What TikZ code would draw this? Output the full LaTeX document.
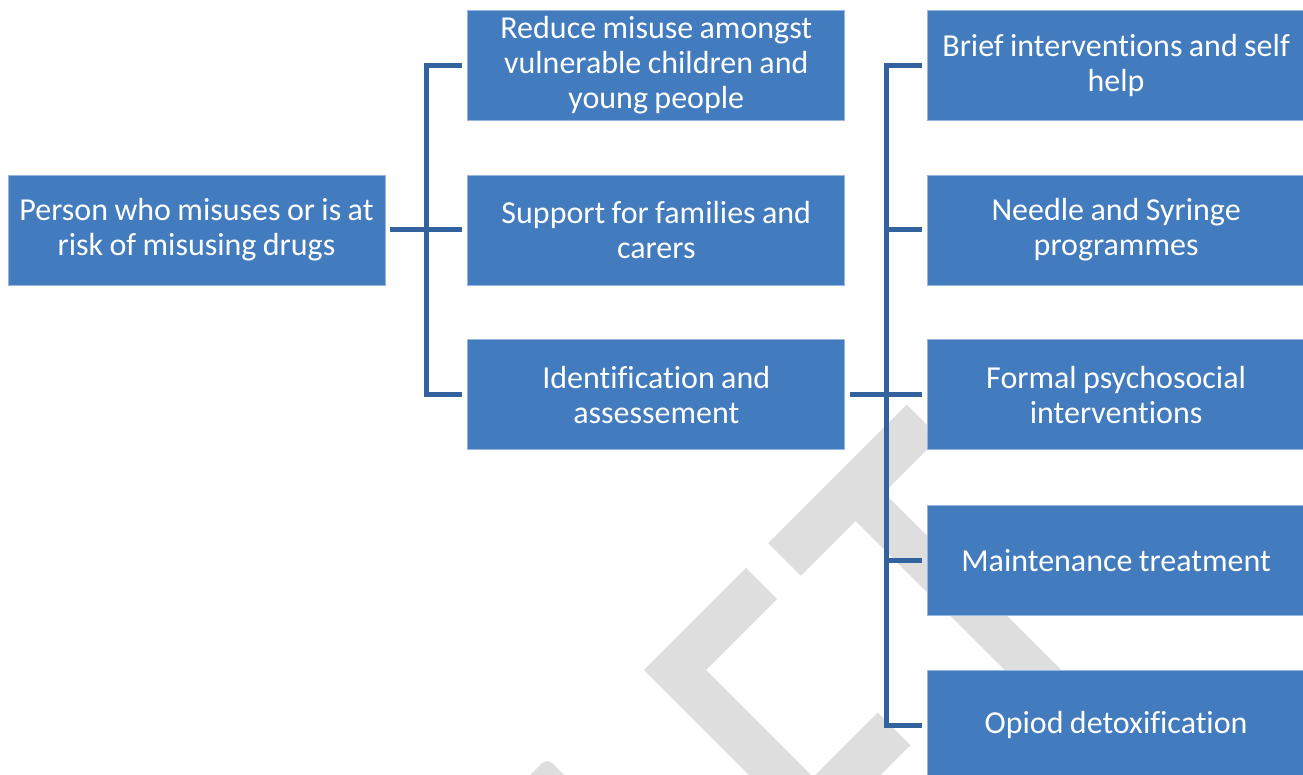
\documentclass[tikz,border=0pt]{standalone}
\usepackage{fontspec}
\setmainfont{Carlito}[Ligatures=NoCommon]
\usetikzlibrary{positioning,calc,backgrounds}

\definecolor{boxblue}{RGB}{66,123,190}
\definecolor{boxedge}{RGB}{150,182,222}
\definecolor{linkblue}{RGB}{50,99,158}
\definecolor{wmgrey}{RGB}{222,222,222}

\begin{document}
\begin{tikzpicture}[
    x=1pt,y=-1pt,
    box/.style={rectangle,draw=boxedge,line width=0.8pt,fill=boxblue,text=white,
      minimum width=377pt,minimum height=110pt,inner sep=0pt,
      text width=372pt,align=center,font=\fontsize{32}{35}\selectfont,
      execute at begin node={\spaceskip=0.2em\relax}},
    link/.style={draw=linkblue,line width=5pt,line join=miter,
      shorten <=5pt,shorten >=5pt},
    wm/.style={draw=wmgrey,line cap=butt,line join=miter}]
    \useasboundingbox (0,0) rectangle (1303,775);
    \clip (0,0) rectangle (1303,775);

    % first level
    \node[box] (person) at (196.5,230) {Person who misuses or is at\\risk of misusing drugs};
    \node[box] (support) [right=82pt of person] {Support for families and\\carers};
    \node[box] (reduce) [above=54pt of support] {Reduce misuse amongst\\vulnerable children and\\young people};
    \node[box] (ident) [below=54pt of support] {Identification and\\assessement};

    % second level
    \node[box] (needle) [right=82pt of support] {Needle and Syringe\\programmes};
    \node[box] (brief) [above=54pt of needle] {Brief interventions and self\\help};
    \node[box] (formal) [below=54pt of needle] {Formal psychosocial\\interventions};
    \node[box] (maint) [below=55pt of formal] {Maintenance treatment};
    \node[box] (opioid) [below=54pt of maint] {Opiod detoxification};

    % connectors
    \foreach \child in {reduce,support,ident}
      \draw[link] (person.east) -- ++(41,0) |- (\child.west);
    \foreach \child in {brief,needle,formal,maint,opioid}
      \draw[link] (ident.east) -- ++(41,0) |- (\child.west);

    % watermark
    \begin{scope}[on background layer]
      \draw[wm,line width=46pt] (784.5,559.5) -- (923,421);
      \draw[wm,line width=40pt] (853.5,490.5) -- (1110,747);
      \draw[wm,line width=44pt] (761.5,583.5) -- (675,670) -- (830,825);
      \draw[wm,line width=46pt] (894,729) -- (790,833);
      \fill[wmgrey,rounded corners=8pt] (547,758) -- (580,791) -- (547,824) -- (514,791) -- cycle;
    \end{scope}
\end{tikzpicture}
\end{document}
